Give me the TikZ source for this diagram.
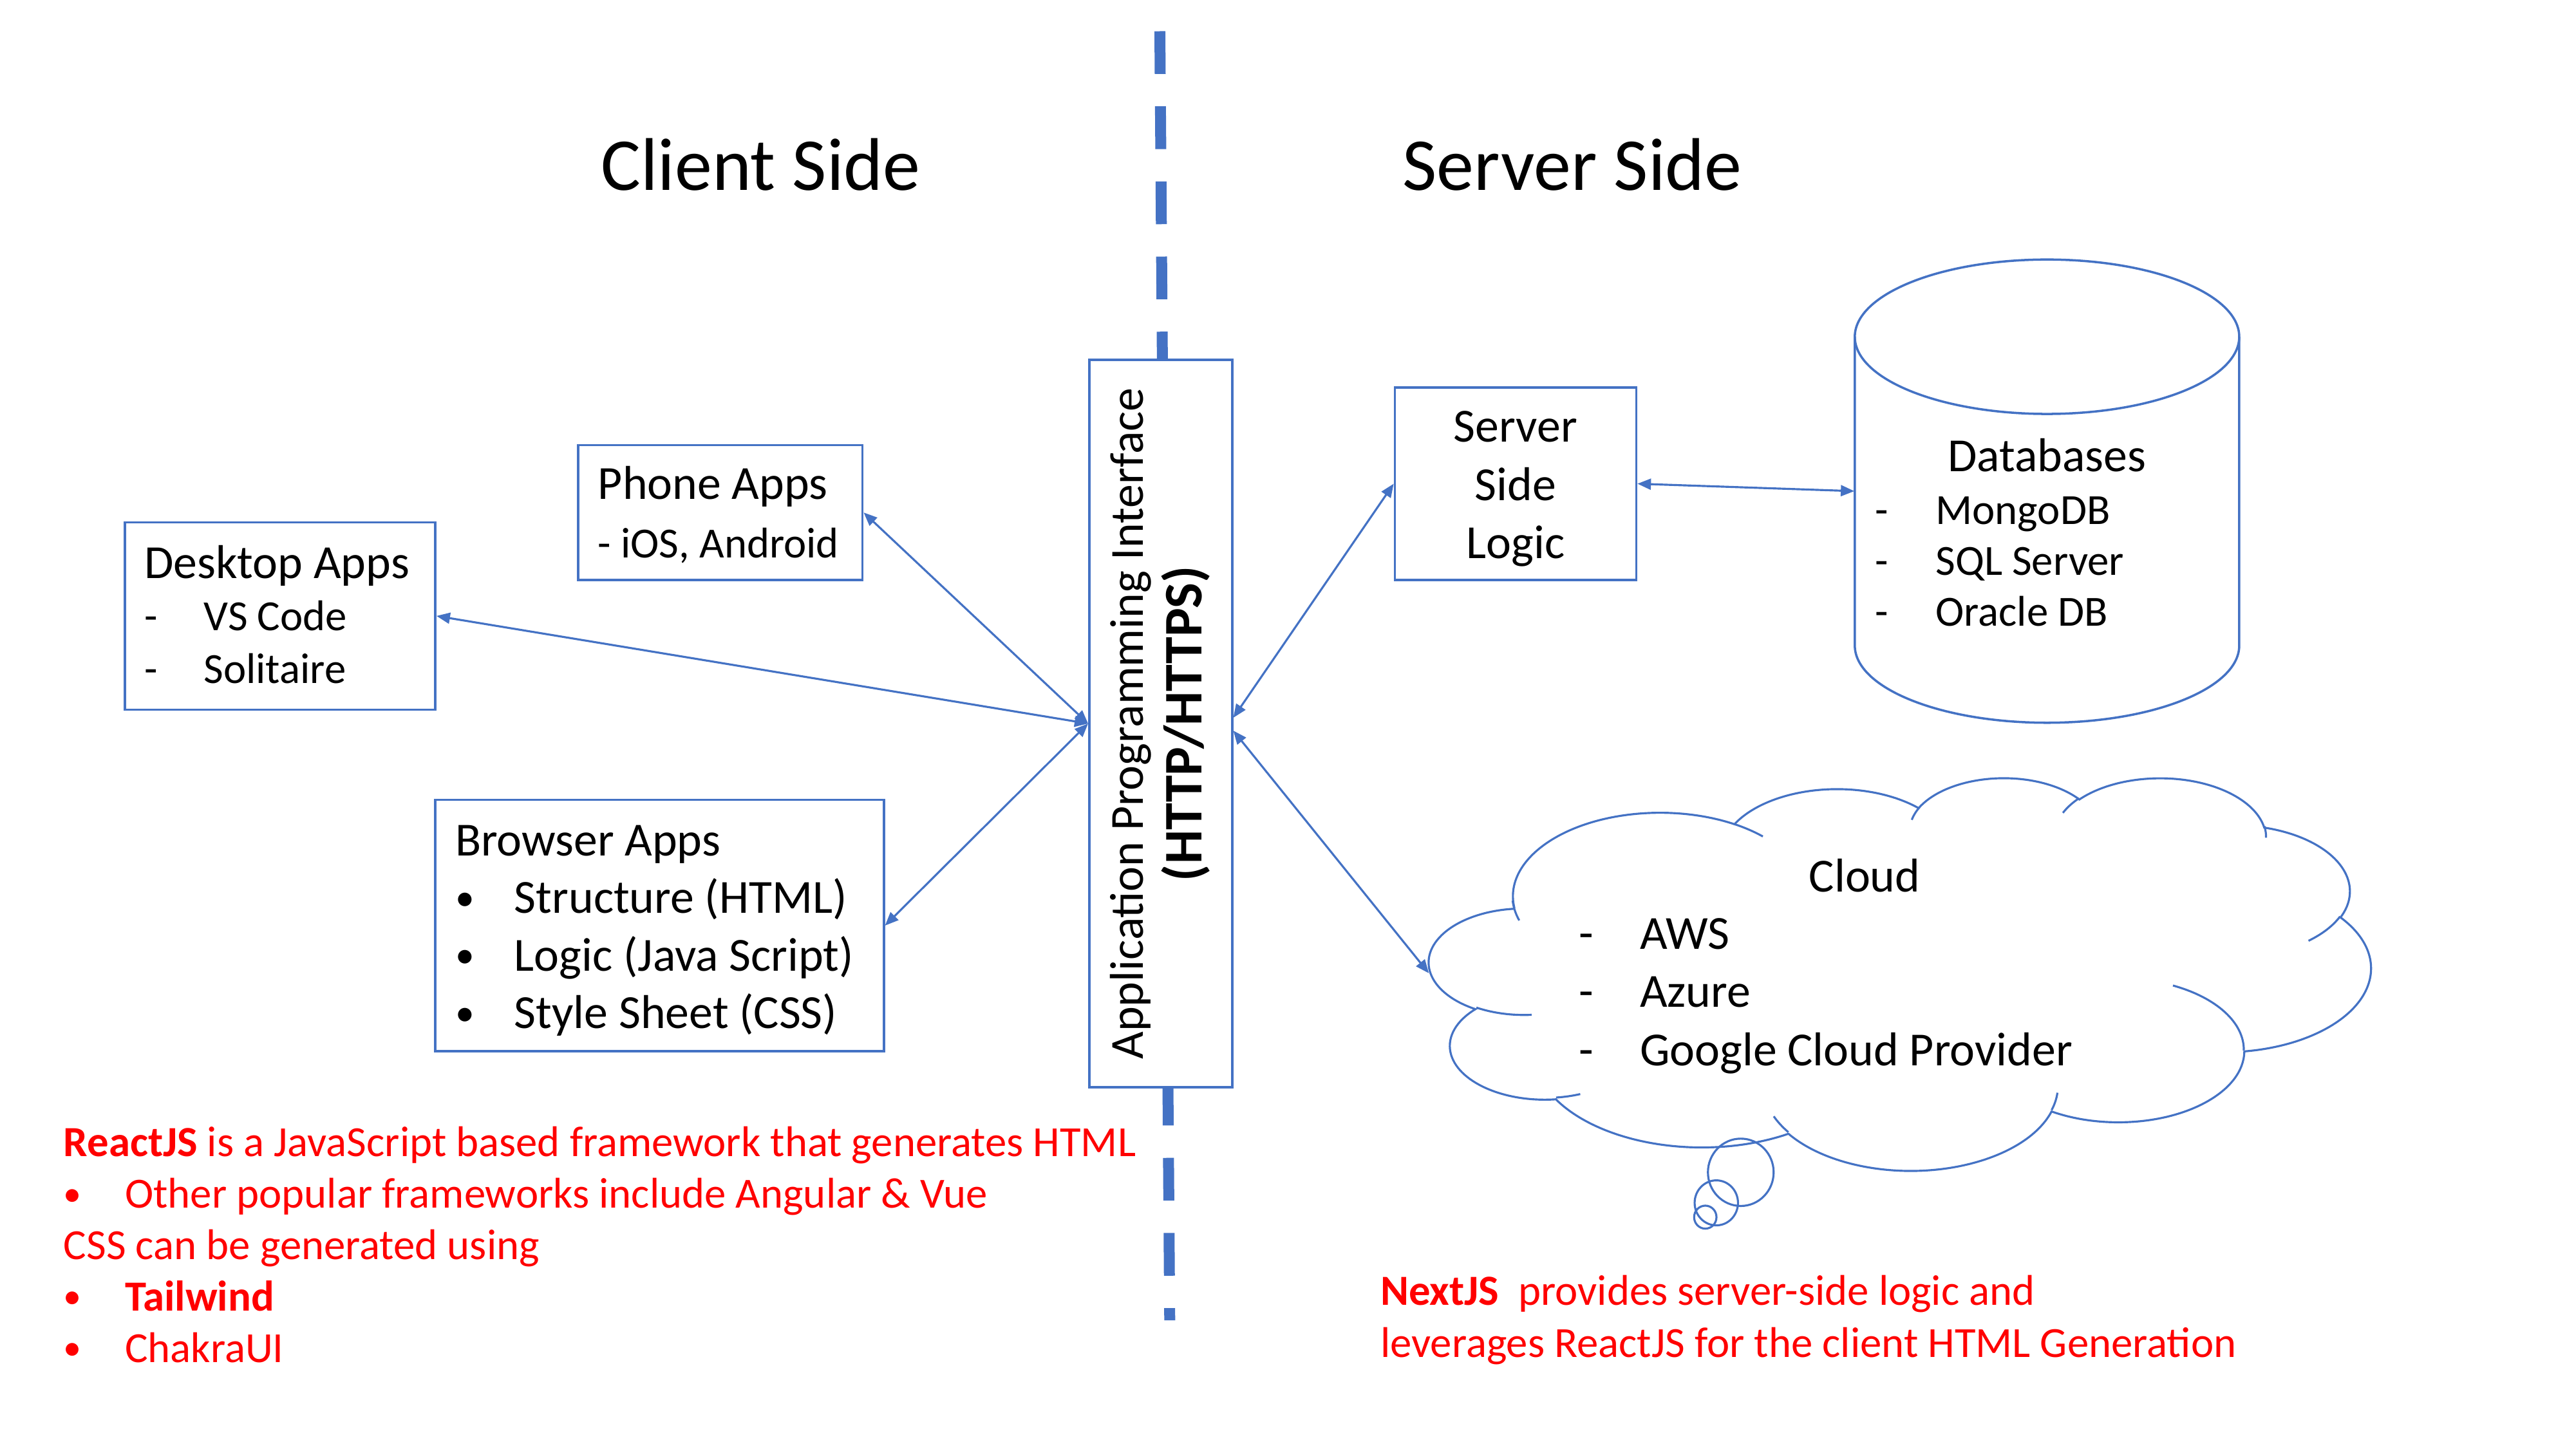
\documentclass[tikz,border=0pt]{standalone}
\usepackage{fontspec}
\setmainfont{Carlito}
\usepackage{tikz}
\usetikzlibrary{arrows.meta}
\definecolor{boxblue}{HTML}{4472C4}

\tikzset{
  box/.style={rectangle, draw=boxblue, line width=1pt, inner sep=0pt, fill=white},
  lnk/.style={draw=boxblue, line width=0.9pt,
    {Triangle[length=2.1mm,width=1.7mm]}-{Triangle[length=2.1mm,width=1.7mm]}},
  cloudline/.style={draw=boxblue, line width=0.9pt},
  title/.style={font=\fontsize{33}{40}\selectfont},
}

\begin{document}
\begin{tikzpicture}[x=0.2552mm, y=0.2552mm]
  \useasboundingbox (0,0) rectangle (1568,-882);

  \coordinate (divtop) at (706,-19);
  \coordinate (divbot) at (712,-803.8);
  \draw[boxblue, line width=1.7mm, dash pattern=on 6.64mm off 5.03mm] (divtop) -- (divbot);

  \node (client) [title] at (463,-100) {Client Side};
  \node (server) [title] at (957,-100) {Server Side};

  \node (api) [box, minimum width=22.2mm, minimum height=113.05mm] at (706.5,-440.5) {};
  \node (apitext) [rotate=90, inner sep=0pt, font=\fontsize{21}{26}\selectfont] at (api.center) {
    \begin{tabular}{@{}c@{}}
      Application Programming Interface \\
      {\fontsize{24}{26}\selectfont\textbf{(HTTP/HTTPS)}}
    \end{tabular}
  };

  \node (desk) [box, minimum width=48.23mm, minimum height=29.09mm] at (170.5,-375) {};
  \node (desktext) [inner sep=0pt, font=\fontsize{21}{23.2}\selectfont] at ([yshift=-0.64mm]desk.center) {
    \begin{tabular}{@{}p{42.1mm}@{}}
      Desktop Apps \\
      {\fontsize{19}{23}\selectfont\makebox[9.2mm][l]{-}VS Code} \\
      {\fontsize{19}{23}\selectfont\makebox[9.2mm][l]{-}Solitaire}
    \end{tabular}
  };
  \node (phone) [box, minimum width=44.15mm, minimum height=20.93mm] at (438.5,-312) {};
  \node (phonetext) [inner sep=0pt, font=\fontsize{21}{26.1}\selectfont] at ([yshift=-0.64mm]phone.center) {
    \begin{tabular}{@{}l@{}}
      \makebox[38mm][l]{Phone Apps} \\
      {\fontsize{19}{23}\selectfont - iOS, Android}
    \end{tabular}
  };
  \node (browser) [box, minimum width=69.67mm, minimum height=39.05mm] at (401.5,-563.5) {};
  \node (browsertext) [inner sep=0pt, font=\fontsize{21}{25.4}\selectfont] at ([yshift=-0.77mm]browser.center) {
    \begin{tabular}{@{}p{63.5mm}@{}}
      Browser Apps \\
      \makebox[9.19mm][l]{\raisebox{1.2pt}{\fontsize{17}{17}\selectfont\textbullet}}Structure (HTML) \\
      \makebox[9.19mm][l]{\raisebox{1.2pt}{\fontsize{17}{17}\selectfont\textbullet}}Logic (Java Script) \\
      \makebox[9.19mm][l]{\raisebox{1.2pt}{\fontsize{17}{17}\selectfont\textbullet}}Style Sheet (CSS)
    \end{tabular}
  };

  \node (logic) [box, minimum width=37.51mm, minimum height=29.86mm] at (922.5,-294.5) {};
  \node (logictext) [inner sep=0pt, font=\fontsize{21}{25.8}\selectfont] at ([yshift=-0.77mm]logic.center) {
    \begin{tabular}{@{}c@{}}
      Server \\
      Side \\
      Logic
    \end{tabular}
  };

  \node (db) [minimum width=59.72mm, minimum height=71.97mm, inner sep=0pt] at (1246,-299) {};
  \draw[cloudline, line width=1pt] (1129,-205) -- (1129,-393)
    arc[start angle=180, end angle=360, x radius=117, y radius=47] -- (1363,-205);
  \draw[cloudline, line width=1pt] (1246,-205) ellipse [x radius=117, y radius=47];
  \node (dbtitle) [font=\fontsize{21}{25}\selectfont] at (1246,-277) {Databases};
  \node (dblist) [anchor=west, inner sep=0pt, font=\fontsize{19}{22.5}\selectfont] at (1141,-344) {
    \begin{tabular}{@{}l@{}}
      \makebox[9.44mm][l]{-}MongoDB \\
      \makebox[9.44mm][l]{-}SQL Server \\
      \makebox[9.44mm][l]{-}Oracle DB
    \end{tabular}
  };

  \node (cloud) [minimum width=146.23mm, minimum height=60.99mm, inner sep=0pt] at (1156.5,-592.5) {};
  \begin{scope}[shift={(870,-473)}, x=0.33849mm, y=-0.14119mm]
    \draw[cloudline] (39.00,143.70)
      arc[start angle=-187.75, end angle=-59.64, x radius=67.53, y radius=91.90]
      arc[start angle=-152.03, end angle=-45.43, x radius=53.33, y radius=72.67]
      arc[start angle=-153.50, end angle=-37.33, x radius=43.65, y radius=59.45]
      arc[start angle=-139.71, end angle=-10.21, x radius=48.57, y radius=65.95]
      arc[start angle=-74.77, end angle=23.21, x radius=53.33, y radius=72.73]
      arc[start angle=-37.52, end angle=81.86, x radius=67.75, y radius=92.20]
      arc[start angle=0.46, end angle=121.97, x radius=57.85, y radius=78.67]
      arc[start angle=16.85, end angle=146.21, x radius=67.52, y radius=92.15]
      arc[start angle=58.98, end angle=150.17, x radius=77.20, y radius=105.43]
      arc[start angle=-276.69, end angle=-136.90, x radius=43.60, y radius=59.18]
      arc[start angle=-239.64, end angle=-95.89, x radius=43.45, y radius=59.45]
      -- cycle;
    \draw[cloudline] (46.93,261.77) arc[start angle=85.55, end angle=120.36, x radius=43.45, y radius=59.45];
    \draw[cloudline] (69.28,348.99) arc[start angle=68.24, end angle=83.31, x radius=43.60, y radius=59.18];
    \draw[cloudline] (164.78,390.90) arc[start angle=146.21, end angle=158.47, x radius=67.52, y radius=92.15];
    \draw[cloudline] (288.27,347.51) arc[start angle=4.74, end angle=16.85, x radius=67.52, y radius=92.15];
    \draw[cloudline] (341.29,229.54) arc[start angle=-64.03, end angle=0.46, x radius=57.85, y radius=78.67];
    \draw[cloudline] (417.98,153.54) arc[start angle=23.21, end angle=49.64, x radius=53.33, y radius=72.73];
    \draw[cloudline] (383.24,54.26) arc[start angle=-10.21, end angle=0.82, x radius=48.57, y radius=65.95];
    \draw[cloudline] (290.78,39.52) arc[start angle=-156.28, end angle=-139.71, x radius=48.57, y radius=65.95];
    \draw[cloudline] (221.41,47.20) arc[start angle=-167.73, end angle=-153.71, x radius=43.65, y radius=59.45];
    \draw[cloudline] (140.00,51.92) arc[start angle=-59.64, end angle=-45.65, x radius=67.53, y radius=91.90];
    \draw[cloudline] (41.27,157.89) arc[start angle=162.39, end angle=176.29, x radius=67.53, y radius=91.90];
  \end{scope}
  \draw[cloudline] (1059.6,-713.7) ellipse [x radius=20, y radius=20.5];
  \draw[cloudline] (1044.7,-732.3) ellipse [x radius=13.2, y radius=13.7];
  \draw[cloudline] (1038,-741) ellipse [x radius=6.8, y radius=7];
  \node (cloudtitle) [font=\fontsize{21}{25}\selectfont] at (1135,-533) {Cloud};
  \node (cloudlist) [anchor=west, inner sep=0pt, font=\fontsize{21}{25.8}\selectfont] at (961,-606.2) {
    \begin{tabular}{@{}l@{}}
      \makebox[9.44mm][l]{-}AWS \\
      \makebox[9.44mm][l]{-}Azure \\
      \makebox[9.44mm][l]{-}Google Cloud Provider
    \end{tabular}
  };

  \draw[lnk] (desk.east) to (api.west);
  \draw[lnk] (phone.east) to (api.west);
  \draw[lnk] (browser.east) to (api.west);
  \draw[lnk] ([yshift=0.9mm]api.east) to (logic.west);
  \draw[lnk] ([yshift=-1.1mm]api.east) to (cloud.west);
  \draw[lnk] (logic.east) to (db.west);

  \node (react) [anchor=west, inner sep=0pt, text=red, font=\fontsize{19}{22.7}\selectfont] at (38.5,-760.5) {
    \begin{tabular}{@{}l@{}}
      \textbf{ReactJS} is a JavaScript based framework that generates HTML \\
      \makebox[9.52mm][l]{\raisebox{1pt}{\fontsize{16}{16}\selectfont\textbullet}}Other popular frameworks include Angular \& Vue \\
      CSS can be generated using \\
      \makebox[9.52mm][l]{\raisebox{1pt}{\fontsize{16}{16}\selectfont\textbullet}}\textbf{Tailwind} \\
      \makebox[9.52mm][l]{\raisebox{1pt}{\fontsize{16}{16}\selectfont\textbullet}}ChakraUI
    \end{tabular}
  };
  \node (next) [anchor=west, inner sep=0pt, text=red, font=\fontsize{19}{23.2}\selectfont] at (840,-804) {
    \begin{tabular}{@{}l@{}}
      \textbf{NextJS}\ \ provides server-side logic and \\
      leverages ReactJS for the client HTML Generation
    \end{tabular}
  };
\end{tikzpicture}
\end{document}
